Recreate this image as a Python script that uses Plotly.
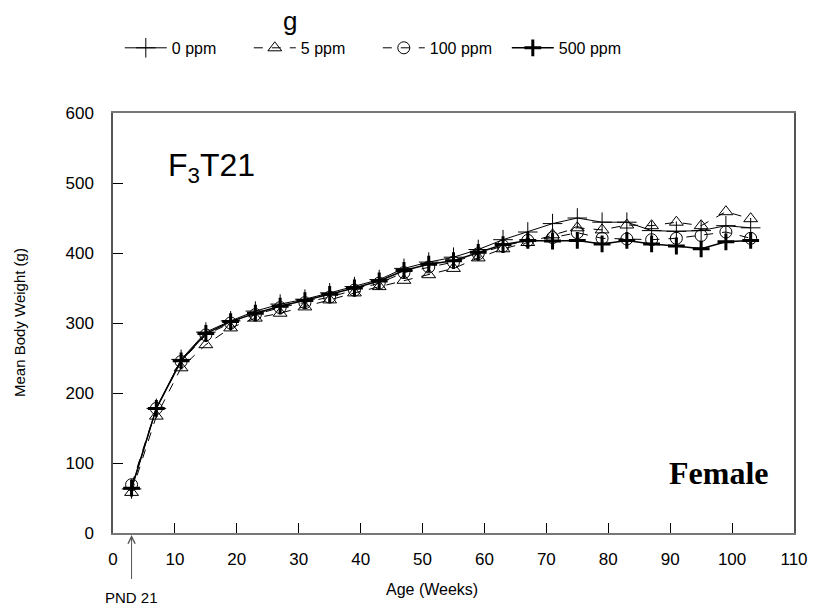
import plotly.graph_objects as go

weeks = [3, 7, 11, 15, 19, 23, 27, 31, 35, 39, 43, 47, 51, 55, 59, 63, 67, 71, 75, 79, 83, 87, 91, 95, 99, 103]

ppm0 = [63, 178, 248, 287, 303, 317, 327, 334, 343, 352, 362, 378, 387, 394, 405, 419, 430, 442, 450, 444, 444, 432, 431, 432, 439, 436]
ppm5 = [58, 167, 236, 269, 293, 307, 314, 323, 333, 343, 352, 361, 369, 378, 393, 406, 415, 426, 436, 433, 440, 439, 444, 439, 459, 449]
ppm100 = [69, 178, 245, 283, 300, 312, 322, 329, 337, 347, 357, 372, 380, 387, 399, 410, 418, 422, 429, 421, 420, 419, 421, 425, 430, 421]
ppm500 = [64, 178, 246, 285, 302, 314, 324, 332, 341, 350, 360, 375, 384, 389, 401, 412, 418, 417, 418, 413, 418, 413, 410, 406, 416, 418]

series_names = ["0 ppm", "5 ppm", "100 ppm", "500 ppm"]
x_ticks = [0, 10, 20, 30, 40, 50, 60, 70, 80, 90, 100, 110]
y_ticks = [0, 100, 200, 300, 400, 500, 600]

FONT = "Arial, Liberation Sans, sans-serif"

fig = go.Figure()
styles = [
    dict(dash="solid", lw=1, symbol="cross-thin", msize=14, mlw=1),
    dict(dash="dash", lw=1, symbol="triangle-up-open", msize=12, mlw=1),
    dict(dash="dash", lw=1, symbol="circle-open", msize=12, mlw=1),
    dict(dash="solid", lw=1.5, symbol="cross-thin", msize=12, mlw=3),
]
for name, vals, st in zip(series_names, [ppm0, ppm5, ppm100, ppm500], styles):
    fig.add_trace(go.Scatter(
        x=weeks, y=vals, name=name, mode="lines+markers",
        line=dict(color="black", width=st["lw"], dash=st["dash"]),
        marker=dict(symbol=st["symbol"], size=st["msize"], color="black",
                    line=dict(color="black", width=st["mlw"])),
    ))

fig.update_layout(
    width=820, height=610,
    margin=dict(l=113, r=18, t=113, b=77),
    paper_bgcolor="white", plot_bgcolor="white",
    font=dict(family=FONT, size=17, color="black"),
    title=dict(text="g", x=0.354, xanchor="center", y=0.965, yanchor="middle",
               font=dict(family=FONT, size=26, color="black")),
    showlegend=True,
    legend=dict(orientation="h", x=0.01, xanchor="left", y=1.155, yanchor="middle",
                font=dict(family=FONT, size=16, color="black"),
                itemwidth=42, entrywidth=72, entrywidthmode="pixels",
                bgcolor="rgba(0,0,0,0)"),
    xaxis=dict(range=[0, 110], tickvals=x_ticks, ticks="inside", ticklen=10,
               tickcolor="black", tickwidth=1, showline=True, mirror=True,
               linecolor="#777", linewidth=1.5, showgrid=False, zeroline=False,
               ticklabelstandoff=10,
               tickfont=dict(family=FONT, size=17, color="black")),
    yaxis=dict(range=[0, 600], tickvals=y_ticks, ticks="inside", ticklen=10,
               tickcolor="black", tickwidth=1, showline=True, mirror=True,
               linecolor="#555", linewidth=1.5, showgrid=False, zeroline=False,
               ticklabelstandoff=14,
               tickfont=dict(family=FONT, size=17, color="black")),
)

fig.add_annotation(text="Mean Body Weight (g)", xref="paper", yref="paper",
                   x=-0.138, y=0.5, xanchor="center", yanchor="middle",
                   textangle=-90, showarrow=False, font=dict(family=FONT, size=15))
fig.add_annotation(text="Age (Weeks)", xref="paper", yref="paper",
                   x=0.469, y=-0.135, xanchor="center", yanchor="middle",
                   showarrow=False, font=dict(family=FONT, size=16))
fig.add_annotation(text="F<sub>3</sub>T21", xref="paper", yref="paper",
                   x=0.078, y=0.87, xanchor="left", yanchor="middle",
                   showarrow=False, font=dict(family=FONT, size=32))
fig.add_annotation(text="<b>Female</b>", xref="paper", yref="paper",
                   x=0.966, y=0.144, xanchor="right", yanchor="middle",
                   showarrow=False, font=dict(family="Liberation Serif, Times New Roman, serif", size=32))
fig.add_annotation(text="PND 21", x=weeks[0], y=0, xref="x", yref="y",
                   ax=0, ay=64, showarrow=True, arrowhead=5, arrowsize=1.4,
                   arrowwidth=1, arrowcolor="#555", startstandoff=8, standoff=2,
                   font=dict(family=FONT, size=15))

fig.write_html("out.html")
